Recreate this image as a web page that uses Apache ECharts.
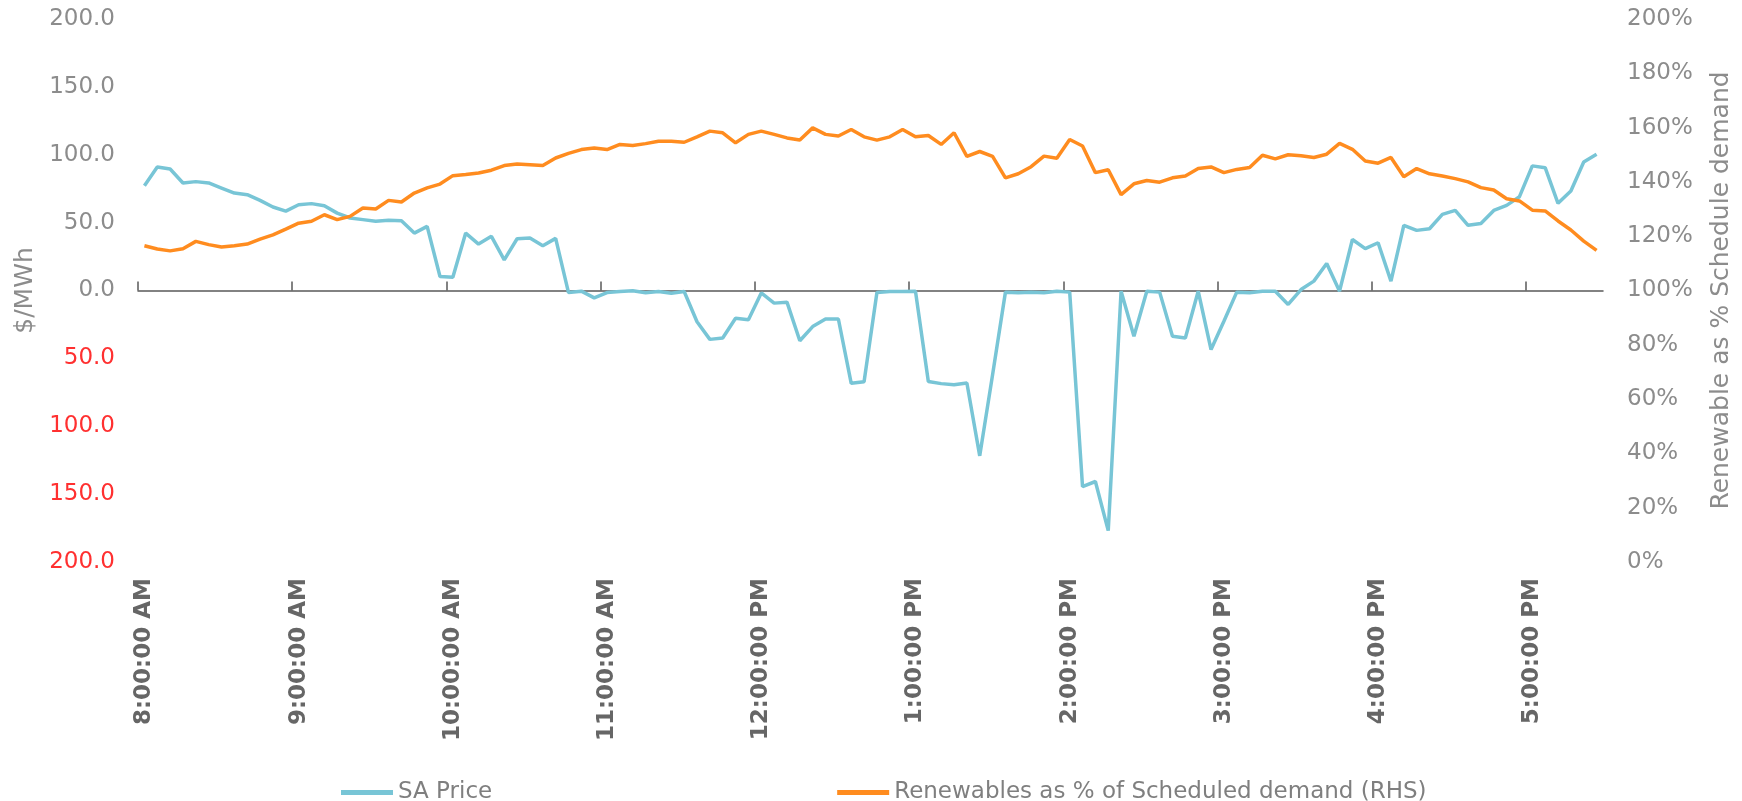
<!DOCTYPE html>
<html>
<head>
<meta charset="utf-8">
<title>SA Price vs Renewables</title>
<script src="https://cdn.jsdelivr.net/npm/echarts@6.0.0/dist/echarts.min.js"></script>
<style>
    html, body { margin: 0; padding: 0; background: #fff; }
    #chart { width: 1742px; height: 801px; }
</style>
</head>
<body>
<div id="chart"></div>
<script>
// 5 minute intervals, 8:00 AM to 5:25 PM
const times = [
    '8:00:00 AM', '8:05:00 AM', '8:10:00 AM', '8:15:00 AM', '8:20:00 AM', '8:25:00 AM', '8:30:00 AM', '8:35:00 AM', '8:40:00 AM', '8:45:00 AM', '8:50:00 AM', '8:55:00 AM',
    '9:00:00 AM', '9:05:00 AM', '9:10:00 AM', '9:15:00 AM', '9:20:00 AM', '9:25:00 AM', '9:30:00 AM', '9:35:00 AM', '9:40:00 AM', '9:45:00 AM', '9:50:00 AM', '9:55:00 AM',
    '10:00:00 AM', '10:05:00 AM', '10:10:00 AM', '10:15:00 AM', '10:20:00 AM', '10:25:00 AM', '10:30:00 AM', '10:35:00 AM', '10:40:00 AM', '10:45:00 AM', '10:50:00 AM', '10:55:00 AM',
    '11:00:00 AM', '11:05:00 AM', '11:10:00 AM', '11:15:00 AM', '11:20:00 AM', '11:25:00 AM', '11:30:00 AM', '11:35:00 AM', '11:40:00 AM', '11:45:00 AM', '11:50:00 AM', '11:55:00 AM',
    '12:00:00 PM', '12:05:00 PM', '12:10:00 PM', '12:15:00 PM', '12:20:00 PM', '12:25:00 PM', '12:30:00 PM', '12:35:00 PM', '12:40:00 PM', '12:45:00 PM', '12:50:00 PM', '12:55:00 PM',
    '1:00:00 PM', '1:05:00 PM', '1:10:00 PM', '1:15:00 PM', '1:20:00 PM', '1:25:00 PM', '1:30:00 PM', '1:35:00 PM', '1:40:00 PM', '1:45:00 PM', '1:50:00 PM', '1:55:00 PM',
    '2:00:00 PM', '2:05:00 PM', '2:10:00 PM', '2:15:00 PM', '2:20:00 PM', '2:25:00 PM', '2:30:00 PM', '2:35:00 PM', '2:40:00 PM', '2:45:00 PM', '2:50:00 PM', '2:55:00 PM',
    '3:00:00 PM', '3:05:00 PM', '3:10:00 PM', '3:15:00 PM', '3:20:00 PM', '3:25:00 PM', '3:30:00 PM', '3:35:00 PM', '3:40:00 PM', '3:45:00 PM', '3:50:00 PM', '3:55:00 PM',
    '4:00:00 PM', '4:05:00 PM', '4:10:00 PM', '4:15:00 PM', '4:20:00 PM', '4:25:00 PM', '4:30:00 PM', '4:35:00 PM', '4:40:00 PM', '4:45:00 PM', '4:50:00 PM', '4:55:00 PM',
    '5:00:00 PM', '5:05:00 PM', '5:10:00 PM', '5:15:00 PM', '5:20:00 PM', '5:25:00 PM'
];

// SA price, $/MWh
const saPrice = [
    77.2, 91.0, 89.5, 79.2, 80.2, 79.2, 75.5, 71.8, 70.6, 66.4, 61.5, 58.5,
    63.2, 64.0, 62.5, 57.0, 53.4, 52.2, 51.0, 51.7, 51.4, 42.3, 47.2, 10.3,
    9.8, 42.3, 34.2, 39.9, 22.6, 38.1, 38.6, 33.0, 38.4, -1.5, -0.5, -5.4,
    -1.5, -0.7, -0.2, -1.7, -0.7, -2.0, -0.7, -23.0, -36.0, -35.0, -20.4, -21.6,
    -1.8, -9.3, -8.6, -37.0, -26.6, -21.0, -21.0, -68.4, -67.2, -1.5, -0.7, -0.7,
    -0.5, -67.0, -68.6, -69.4, -68.1, -121.8, -62.0, -1.2, -1.7, -1.2, -1.7, -0.5,
    -1.2, -144.4, -140.7, -176.9, -0.5, -33.7, -0.5, -1.2, -33.7, -35.0, -0.5, -43.5,
    -22.6, -1.2, -1.7, -0.5, -0.5, -10.3, 0.7, 6.9, 19.9, -0.5, 37.6, 30.8,
    35.2, 6.9, 48.0, 44.3, 45.5, 56.1, 59.0, 48.0, 49.4, 59.0, 62.7, 69.1,
    91.8, 90.5, 64.2, 73.3, 94.7, 100.4
];

// renewables as % of scheduled demand
const renewablePct = [
    116.5, 115.3, 114.6, 115.4, 118.1, 116.9, 116.0, 116.5, 117.1, 118.9, 120.5, 122.6,
    124.8, 125.5, 127.9, 126.1, 127.3, 130.4, 130.0, 133.2, 132.6, 135.9, 137.8, 139.2,
    142.3, 142.7, 143.3, 144.3, 146.0, 146.6, 146.3, 146.0, 148.8, 150.5, 151.9, 152.5,
    151.9, 153.8, 153.4, 154.1, 155.0, 155.0, 154.6, 156.6, 158.7, 158.1, 154.4, 157.5,
    158.7, 157.5, 156.2, 155.4, 159.9, 157.5, 156.9, 159.3, 156.6, 155.4, 156.6, 159.3,
    156.6, 157.1, 153.8, 158.1, 149.4, 151.2, 149.4, 141.5, 143.0, 145.6, 149.5, 148.7,
    155.6, 153.2, 143.4, 144.5, 135.3, 139.3, 140.5, 139.9, 141.5, 142.2, 144.9, 145.5,
    143.4, 144.6, 145.3, 149.8, 148.5, 150.0, 149.6, 149.0, 150.2, 154.2, 152.0, 147.7,
    146.9, 149.0, 141.9, 144.9, 143.0, 142.2, 141.2, 140.0, 137.9, 137.0, 133.8, 133.0,
    129.6, 129.3, 125.6, 122.3, 118.2, 114.8
];

const seriesNames = ['SA Price', 'Renewables as % of Scheduled demand (RHS)'];
const priceTicks = { min: -200, max: 200, step: 50 };
const pctTicks = { min: 0, max: 200, step: 20 };

// tick marks sit on the start of each hour
const hourTicks = times
    .map((t, i) => (t.indexOf(':00:00') > 0 ? i : -1))
    .filter(i => i >= 0);

const blue = '#78c5d6';
const orange = '#ff8c1f';
const grey = '#8c8c8c';
const red = '#ff3030';

const chart = echarts.init(document.getElementById('chart'));

chart.setOption({
    animation: false,
    textStyle: {
        fontFamily: '"DejaVu Sans", Verdana, sans-serif',
    },
    color: [blue, orange],
    grid: {
        left: 138,
        right: 135,
        top: 19,
        bottom: 239,
    },
    legend: {
        data: seriesNames,
        left: 336,
        top: 776,
        icon: 'rect',
        itemWidth: 52,
        itemHeight: 5,
        itemGap: 345,
        textStyle: {
            color: '#7f7f7f',
            fontSize: 23,
        },
    },
    xAxis: [
        // time labels sit at the bottom of the plot
        {
            type: 'category',
            data: times,
            position: 'bottom',
            boundaryGap: true,
            axisLine: { show: false, onZero: false },
            axisTick: { show: false },
            axisLabel: {
                interval: 11,
                rotate: 90,
                margin: 16,
                color: '#666666',
                fontWeight: 'bold',
                fontSize: 23,
            },
            splitLine: { show: false },
        },
        // axis line with hour ticks on the zero of the price axis
        {
            type: 'value',
            position: 'top',
            min: 0,
            max: times.length,
            axisLine: {
                onZero: true,
                onZeroAxisIndex: 0,
                lineStyle: { color: '#595959', width: 1.5 },
            },
            axisTick: {
                show: true,
                length: 9,
                customValues: hourTicks,
                lineStyle: { color: '#595959', width: 1.5 },
            },
            axisLabel: { show: false },
            splitLine: { show: false },
        },
    ],
    yAxis: [
        {
            type: 'value',
            position: 'left',
            min: priceTicks.min,
            max: priceTicks.max,
            interval: priceTicks.step,
            name: '$/MWh',
            nameLocation: 'middle',
            nameRotate: 90,
            nameGap: 100,
            nameTextStyle: {
                color: grey,
                fontSize: 25,
            },
            axisLine: { show: false },
            axisTick: { show: false },
            splitLine: { show: false },
            axisLabel: {
                margin: 23,
                fontSize: 23,
                formatter: v => Math.abs(v).toFixed(1),
                color: v => (v < 0 ? red : grey),
            },
        },
        {
            type: 'value',
            position: 'right',
            min: pctTicks.min,
            max: pctTicks.max,
            interval: pctTicks.step,
            name: 'Renewable as % Schedule demand',
            nameLocation: 'middle',
            nameRotate: 90,
            nameGap: 106,
            nameTextStyle: {
                color: grey,
                fontSize: 25,
            },
            axisLine: { show: false },
            axisTick: { show: false },
            splitLine: { show: false },
            axisLabel: {
                margin: 24,
                fontSize: 23,
                color: grey,
                formatter: '{value}%',
            },
        },
    ],
    series: [
        {
            name: seriesNames[0],
            type: 'line',
            xAxisIndex: 0,
            yAxisIndex: 0,
            data: saPrice,
            showSymbol: false,
            lineStyle: { width: 3.5, color: blue },
        },
        {
            name: seriesNames[1],
            type: 'line',
            xAxisIndex: 0,
            yAxisIndex: 1,
            data: renewablePct,
            showSymbol: false,
            lineStyle: { width: 3.5, color: orange },
        },
    ],
});
</script>
</body>
</html>
